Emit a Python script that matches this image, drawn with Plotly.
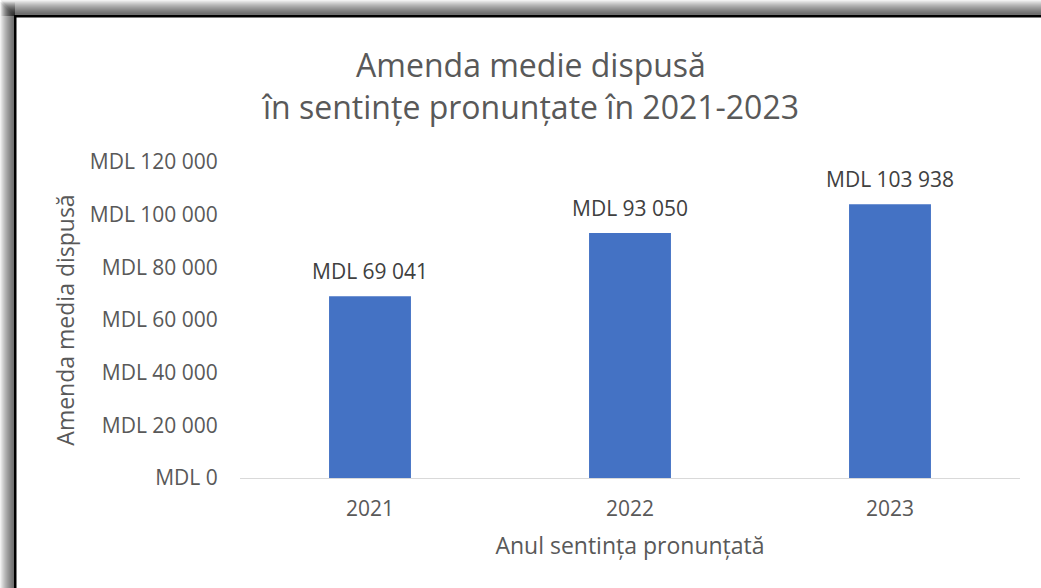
import plotly.graph_objects as go

years = ["2021", "2022", "2023"]
amounts = [69041, 93050, 103938]
tick_vals = [0, 20000, 40000, 60000, 80000, 100000, 120000]
tick_text = ["MDL " + f"{v:,}".replace(",", " ") for v in tick_vals]
label_text = ["MDL " + f"{v:,}".replace(",", " ") for v in amounts]

W, H = 1041, 588
ML, MR, MT, MB = 240, 21, 162, 110
PW, PH = W - ML - MR, H - MT - MB

def px(x):
    return (x - ML) / PW

def py(y):
    return (H - MB - y) / PH

fig = go.Figure(go.Bar(
    x=years, y=amounts,
    marker=dict(color="#4472C4", line=dict(width=0)),
    hoverinfo="x+y",
))

for i, (val, lab) in enumerate(zip(amounts, label_text)):
    fig.add_annotation(x=i, y=val, text=lab, showarrow=False,
                       xanchor="center", yanchor="bottom", yshift=9,
                       font=dict(size=21, color="#404040", family="Open Sans"))

shapes = []
# shadow gradient
for k in range(14):
    shapes.append(dict(type="rect", xref="paper", yref="paper",
                       x0=px(k), x1=px(15), y0=py(H + 5), y1=py(k + 2),
                       fillcolor="rgba(0,0,0,0.055)", line=dict(width=0), layer="below"))
    shapes.append(dict(type="rect", xref="paper", yref="paper",
                       x0=px(k + 1), x1=px(W + 5), y0=py(16), y1=py(k),
                       fillcolor="rgba(0,0,0,0.055)", line=dict(width=0), layer="below"))
# white chart area
shapes.append(dict(type="rect", xref="paper", yref="paper",
                   x0=px(15), x1=px(W + 5), y0=py(H + 5), y1=py(16),
                   fillcolor="white", line=dict(width=0), layer="below"))
# black frame lines
shapes.append(dict(type="rect", xref="paper", yref="paper",
                   x0=px(14), x1=px(16.5), y0=py(H + 5), y1=py(15),
                   fillcolor="black", line=dict(width=0), layer="below"))
shapes.append(dict(type="rect", xref="paper", yref="paper",
                   x0=px(14), x1=px(W + 5), y0=py(17.5), y1=py(15),
                   fillcolor="black", line=dict(width=0), layer="below"))

fig.update_layout(
    width=W, height=H,
    margin=dict(l=ML, r=MR, t=MT, b=MB, pad=0),
    paper_bgcolor="white", plot_bgcolor="rgba(0,0,0,0)",
    showlegend=False,
    bargap=0.685,
    shapes=shapes,
    title=dict(text="Amenda medie dispusă<br>în sentințe pronunțate în 2021-2023",
               xref="container", x=531 / W, xanchor="center",
               yref="container", y=1 - 77 / H, yanchor="middle",
               font=dict(family="Open Sans", size=32, color="#595959")),
    font=dict(family="Open Sans", color="#595959"),
    xaxis=dict(type="category", range=[-0.5, len(years) - 0.5],
               showgrid=False, showline=True, linecolor="#D9D9D9", linewidth=1,
               ticks="outside", ticklen=12, tickcolor="rgba(0,0,0,0)",
               tickfont=dict(size=21, color="#595959"),
               title=dict(text="Anul sentința pronunțată", standoff=16,
                          font=dict(size=23, color="#595959"))),
    yaxis=dict(range=[0, 120000], tickmode="array", tickvals=tick_vals, ticktext=tick_text,
               showgrid=False, zeroline=False, showline=False,
               ticks="outside", ticklen=17, tickcolor="rgba(0,0,0,0)",
               tickfont=dict(size=21, color="#595959"),
               title=dict(text="Amenda media dispusă", standoff=8,
                          font=dict(size=23, color="#595959"))),
)

fig.write_html("out.html", config={"displayModeBar": False},
               post_script="document.body.style.margin='0';")
